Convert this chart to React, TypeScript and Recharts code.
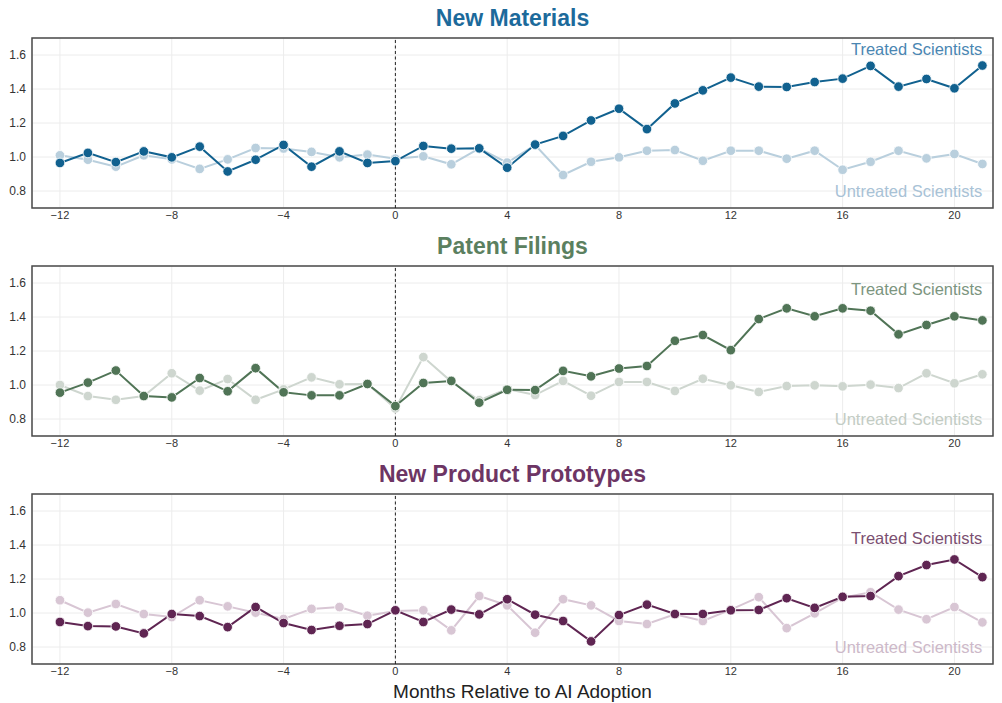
import React from "react";
import {
  LineChart,
  Line,
  XAxis,
  YAxis,
  CartesianGrid,
  ReferenceLine,
  ReferenceArea,
} from "recharts";

// Months relative to AI adoption
const months = [
  -12, -11, -10, -9, -8, -7, -6, -5, -4, -3, -2, -1, 0, 1, 2, 3, 4, 5, 6, 7, 8,
  9, 10, 11, 12, 13, 14, 15, 16, 17, 18, 19, 20, 21,
];

const xTicks = [-12, -8, -4, 0, 4, 8, 12, 16, 20];
const yTicks = [0.8, 1.0, 1.2, 1.4, 1.6];

// New Materials
const materialsTreated = [
  0.965, 1.024, 0.97, 1.033, 0.998, 1.061, 0.915, 0.984, 1.071, 0.943, 1.033,
  0.965, 0.976, 1.065, 1.049, 1.051, 0.937, 1.073, 1.124, 1.215, 1.284, 1.164,
  1.315, 1.392, 1.467, 1.414, 1.412, 1.441, 1.461, 1.536, 1.414, 1.459, 1.404,
  1.538,
];
const materialsUntreated = [
  1.01, 0.984, 0.943, 1.01, 0.986, 0.93, 0.986, 1.053, 1.05, 1.03, 0.998, 1.014,
  0.99, 1.004, 0.957, 1.05, 0.967, 1.07, 0.894, 0.972, 0.998, 1.037, 1.041,
  0.978, 1.037, 1.037, 0.99, 1.037, 0.925, 0.972, 1.037, 0.992, 1.018, 0.959,
];

// Patent Filings
const patentsTreated = [
  0.955, 1.014, 1.085, 0.935, 0.927, 1.041, 0.963, 1.099, 0.957, 0.939, 0.939,
  1.006, 0.876, 1.012, 1.024, 0.896, 0.972, 0.97, 1.083, 1.051, 1.097, 1.112,
  1.26, 1.294, 1.205, 1.388, 1.451, 1.404, 1.451, 1.437, 1.298, 1.353, 1.404,
  1.38,
];
const patentsUntreated = [
  1.0, 0.935, 0.913, 0.935, 1.069, 0.967, 1.035, 0.913, 0.974, 1.045, 1.004,
  1.006, 0.862, 1.164, 1.02, 0.91, 0.976, 0.941, 1.024, 0.937, 1.018, 1.018,
  0.965, 1.037, 0.998, 0.959, 0.994, 0.998, 0.992, 1.002, 0.982, 1.069, 1.01,
  1.063,
];

// New Product Prototypes
const prototypesTreated = [
  0.947, 0.923, 0.921, 0.88, 0.994, 0.982, 0.917, 1.035, 0.941, 0.9, 0.925,
  0.935, 1.016, 0.947, 1.02, 0.992, 1.081, 0.99, 0.953, 0.833, 0.988, 1.049,
  0.994, 0.994, 1.016, 1.018, 1.087, 1.03, 1.095, 1.1, 1.217, 1.282, 1.315,
  1.211,
];
const prototypesUntreated = [
  1.075, 1.002, 1.053, 0.994, 0.976, 1.075, 1.039, 1.002, 0.965, 1.024, 1.035,
  0.984, 1.012, 1.016, 0.898, 1.1, 1.045, 0.884, 1.081, 1.045, 0.953, 0.935,
  0.992, 0.953, 1.02, 1.093, 0.911, 0.998, 1.09, 1.122, 1.02, 0.963, 1.035,
  0.945,
];

const FONT = "'Liberation Sans', Arial, Helvetica, sans-serif";
const X_DOMAIN: [number, number] = [-13, 21.38];
const Y_DOMAIN: [number, number] = [0.7, 1.7];
const CHART_W = 1002;
const CHART_H = 228;

type PanelProps = {
  title: string;
  treated: number[];
  untreated: number[];
  treatedColor: string;
  untreatedColor: string;
  titleColor: string;
  treatedLabelColor: string;
  untreatedLabelColor: string;
  treatedLabelY: number;
  top: number;
};

const fmtX = (v: number) => String(v).replace("-", "\u2212");
const fmtY = (v: number) => v.toFixed(1);

function Panel(p: PanelProps) {
  const data = months.map((m, i) => ({
    month: m,
    treated: p.treated[i],
    untreated: p.untreated[i],
  }));

  const dot = (color: string) => ({
    r: 4.8,
    fill: color,
    stroke: "#ffffff",
    strokeWidth: 0.8,
  });

  const endLabel =
    (text: string, color: string, dy: number) =>
    (props: any) => {
      const { viewBox } = props;
      return (
        <text
          x={viewBox.x}
          y={viewBox.y + dy}
          textAnchor="end"
          dominantBaseline="central"
          fontFamily={FONT}
          fontSize={16.5}
          fill={color}
        >
          {text}
        </text>
      );
    };

  return (
    <div style={{ position: "absolute", left: 0, top: p.top }}>
      <div
        style={{
          position: "absolute",
          left: 32,
          width: 961,
          top: 5,
          textAlign: "center",
          fontFamily: FONT,
          fontWeight: "bold",
          fontSize: 23,
          color: p.titleColor,
          lineHeight: "26px",
        }}
      >
        {p.title}
      </div>
      <LineChart
        width={CHART_W}
        height={CHART_H}
        data={data}
        margin={{ top: 38, right: 9, bottom: 0, left: 0 }}
      >
        <CartesianGrid stroke="#ececec" strokeWidth={1} />
        <XAxis
          dataKey="month"
          type="number"
          domain={X_DOMAIN}
          ticks={xTicks}
          tickFormatter={fmtX}
          allowDataOverflow
          height={20}
          axisLine={false}
          tickLine={false}
          tickSize={3}
          tickMargin={0}
          tick={{ fontSize: 11, fill: "#333", fontFamily: FONT }}
        />
        <YAxis
          type="number"
          domain={Y_DOMAIN}
          ticks={yTicks}
          tickFormatter={fmtY}
          allowDataOverflow
          width={32}
          axisLine={false}
          tickLine={false}
          tickSize={4}
          tickMargin={2}
          tick={{ fontSize: 12, fill: "#333", fontFamily: FONT }}
        />
        <ReferenceLine
          x={0}
          stroke="#222"
          strokeWidth={1}
          strokeDasharray="3 2.5"
        />
        <Line
          dataKey="untreated"
          stroke={p.untreatedColor}
          strokeWidth={2}
          dot={dot(p.untreatedColor)}
          activeDot={false}
          isAnimationActive={false}
        />
        <Line
          dataKey="treated"
          stroke={p.treatedColor}
          strokeWidth={2}
          dot={dot(p.treatedColor)}
          activeDot={false}
          isAnimationActive={false}
        />
        <ReferenceLine
          segment={[
            { x: 21, y: p.treatedLabelY },
            { x: 21, y: p.treatedLabelY },
          ]}
          stroke="none"
          label={endLabel("Treated Scientists", p.treatedLabelColor, 0)}
        />
        <ReferenceLine
          segment={[
            { x: 21, y: 0.8 },
            { x: 21, y: 0.8 },
          ]}
          stroke="none"
          label={endLabel("Untreated Scientists", p.untreatedLabelColor, 0)}
        />
        <ReferenceArea
          x1={X_DOMAIN[0]}
          x2={X_DOMAIN[1]}
          y1={Y_DOMAIN[0]}
          y2={Y_DOMAIN[1]}
          fill="none"
          stroke="#4a4a4a"
          strokeWidth={1.5}
          ifOverflow="visible"
        />
      </LineChart>
    </div>
  );
}

export default function App() {
  return (
    <div
      style={{
        position: "absolute",
        left: 0,
        top: 0,
        width: 1002,
        height: 703,
        background: "#ffffff",
        overflow: "hidden",
      }}
    >
      <Panel
        title="New Materials"
        treated={materialsTreated}
        untreated={materialsUntreated}
        treatedColor="#11618f"
        untreatedColor="#b9cfdd"
        titleColor="#1c6a9b"
        treatedLabelColor="#4a86b2"
        untreatedLabelColor="#a8c2d6"
        treatedLabelY={1.633}
        top={0}
      />
      <Panel
        title="Patent Filings"
        treated={patentsTreated}
        untreated={patentsUntreated}
        treatedColor="#507456"
        untreatedColor="#ced6cf"
        titleColor="#5b805f"
        treatedLabelColor="#7c957f"
        untreatedLabelColor="#c3ccc4"
        treatedLabelY={1.562}
        top={228}
      />
      <Panel
        title="New Product Prototypes"
        treated={prototypesTreated}
        untreated={prototypesUntreated}
        treatedColor="#5f2552"
        untreatedColor="#d8c6d4"
        titleColor="#6d3564"
        treatedLabelColor="#7b4f71"
        untreatedLabelColor="#cdb9c9"
        treatedLabelY={1.44}
        top={456}
      />
      <div
        style={{
          position: "absolute",
          left: 42,
          width: 961,
          top: 680,
          textAlign: "center",
          fontFamily: FONT,
          fontSize: 19,
          color: "#222",
          lineHeight: "24px",
        }}
      >
        Months Relative to AI Adoption
      </div>
    </div>
  );
}
